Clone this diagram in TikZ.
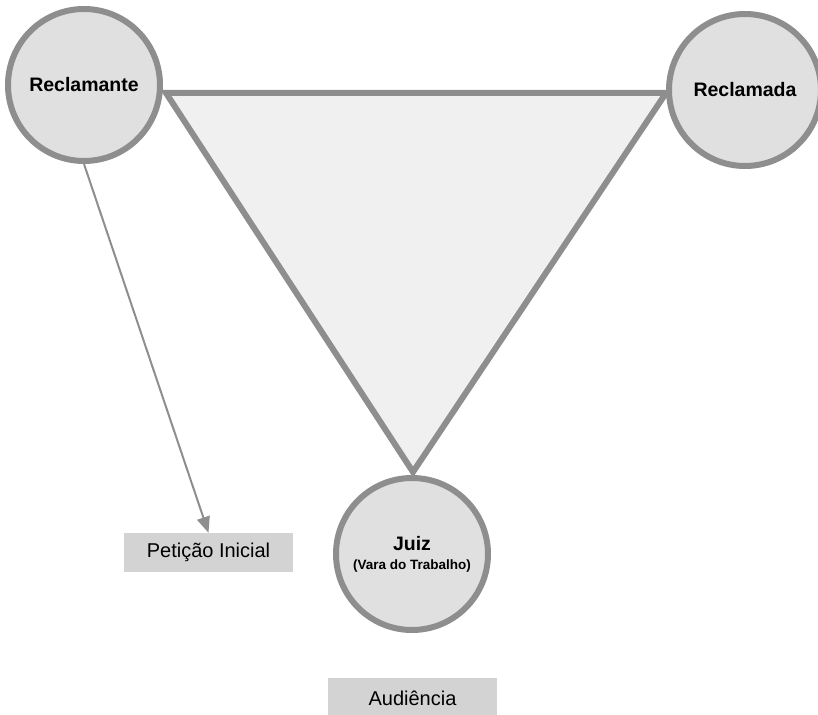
\documentclass[tikz,border=0pt]{standalone}
\usepackage{fontspec}
\setmainfont{Liberation Sans}
\usetikzlibrary{arrows.meta}

\definecolor{ringgray}{HTML}{8E8E8E}
\definecolor{discfill}{HTML}{E0E0E0}
\definecolor{trifill}{HTML}{F0F0F0}
\definecolor{tagfill}{HTML}{D3D3D3}

\tikzset{
  party/.style={circle, draw=ringgray, fill=discfill, line width=6pt,
    minimum size=152pt, inner sep=0pt, align=center, font=\bfseries\fontsize{19.5}{22}\selectfont},
  tag/.style={rectangle, fill=tagfill, inner sep=0pt, font=\fontsize{20}{24}\selectfont},
  flow/.style={draw=ringgray, line width=2pt, -{Triangle[length=16pt,width=13pt]}},
}

\begin{document}
\begin{tikzpicture}[x=1pt, y=-1pt]
  \useasboundingbox (0,0) rectangle (818,714);

  % triangle linking the three parties
  \coordinate (tl) at (166,93);
  \coordinate (tr) at (666,93);
  \coordinate (tb) at (413,472);
  \draw[draw=ringgray, fill=trifill, line width=6pt, line join=miter] (tl) -- (tr) -- (tb) -- cycle;

  % parties
  \node[party] (recl) at (84,85) {Reclamante};
  \node[party] (recd) at (745,90) {Reclamada};
  \node[party] (juiz) at (412,554) {Juiz\\[-3pt]{\fontsize{13.5}{15}\selectfont (Vara do Trabalho)}};

  % stage labels
  \node[tag, minimum width=169pt, minimum height=39pt] (pet) at (208.5,552.5) {Petição Inicial};
  \node[tag, minimum width=169pt, minimum height=40pt] (aud) at (412.5,698) {Audiência};

  \draw[flow] (recl.south) -- (pet.north);
\end{tikzpicture}
\end{document}
